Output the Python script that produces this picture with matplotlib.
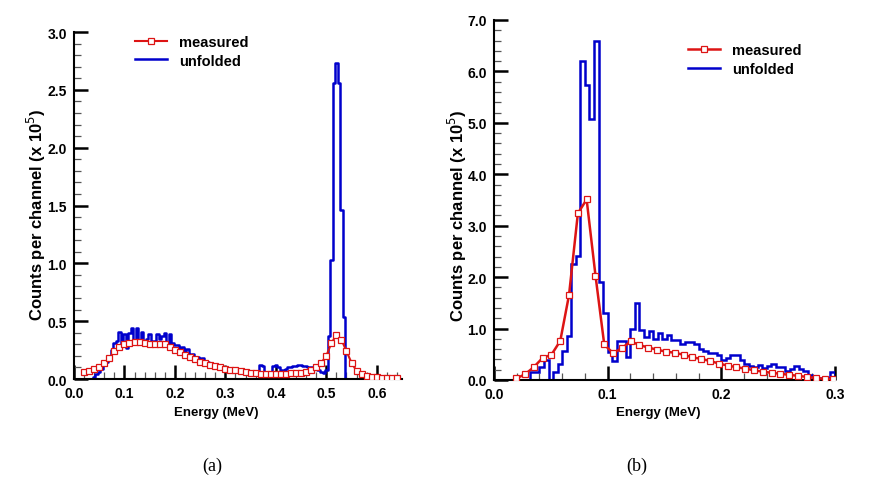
import matplotlib
matplotlib.use('Agg')
import matplotlib.pyplot as plt # plotting
import numpy as np
from matplotlib.ticker import MultipleLocator, FormatStrFormatter

plt.rcParams['font.family'] = ['Liberation Sans', 'DejaVu Sans']

# ---- panel (a) ----
# measured spectrum, one point every 0.01 MeV
e_a_meas = np.round(np.arange(0.02, 0.645, 0.01), 3)
c_a_meas = [0.058, 0.072, 0.083, 0.107, 0.136, 0.18, 0.24, 0.28, 0.30, 0.315,
            0.32, 0.32, 0.31, 0.30, 0.30, 0.305, 0.30, 0.28, 0.25, 0.23,
            0.21, 0.19, 0.17, 0.15, 0.14, 0.12, 0.11, 0.10, 0.09, 0.08,
            0.075, 0.07, 0.06, 0.055, 0.05, 0.045, 0.045, 0.045, 0.045, 0.045,
            0.045, 0.05, 0.05, 0.055, 0.06, 0.075, 0.10, 0.14, 0.20, 0.31,
            0.38, 0.34, 0.24, 0.14, 0.07, 0.04, 0.03, 0.02, 0.015, 0.012,
            0.01, 0.01, 0.01]
# unfolded spectrum, channel centres every 0.005 MeV
e_a_unf = np.round(np.arange(0.030, 0.5475, 0.005), 4)
c_a_unf = [0.00, 0.00, 0.02, 0.04, 0.06, 0.09, 0.12, 0.15, 0.20, 0.25,
           0.31, 0.33, 0.41, 0.30, 0.39, 0.27, 0.40, 0.44, 0.30, 0.44,
           0.32, 0.41, 0.33, 0.35, 0.39, 0.32, 0.33, 0.39, 0.35, 0.37,
           0.40, 0.30, 0.39, 0.31, 0.29, 0.29, 0.27, 0.28, 0.24, 0.26,
           0.21, 0.22, 0.19, 0.19, 0.17, 0.18, 0.15, 0.15, 0.13, 0.13,
           0.12, 0.12, 0.11, 0.10, 0.10, 0.09, 0.09, 0.08, 0.08, 0.075,
           0.07, 0.07, 0.065, 0.06, 0.055, 0.05, 0.04, 0.04, 0.12, 0.11,
           0.06, 0.05, 0.06, 0.11, 0.12, 0.10, 0.08, 0.08, 0.09, 0.10,
           0.10, 0.11, 0.11, 0.12, 0.12, 0.11, 0.11, 0.10, 0.10, 0.10,
           0.09, 0.08, 0.06, 0.05, 0.08, 0.37, 1.03, 2.56, 2.73, 2.56,
           1.46, 0.54, 0.00, 0.00]

# ---- panel (b) ----
e_b_meas = [0.0195, 0.0273, 0.035, 0.0428, 0.0505, 0.0583, 0.066, 0.0738, 0.0815,
            0.0893, 0.097, 0.1048, 0.1125, 0.1203, 0.128, 0.1358, 0.1435, 0.1513,
            0.159, 0.1668, 0.1745, 0.1823, 0.19, 0.1978, 0.2055, 0.2133, 0.221,
            0.2288, 0.2365, 0.2443, 0.252, 0.2598, 0.2675, 0.2753, 0.283, 0.2908,
            0.2985]
c_b_meas = [0.03, 0.11, 0.25, 0.43, 0.49, 0.76, 1.65, 3.24, 3.51, 2.03,
            0.69, 0.52, 0.62, 0.75, 0.68, 0.63, 0.59, 0.55, 0.53, 0.49,
            0.44, 0.41, 0.37, 0.32, 0.28, 0.25, 0.22, 0.19, 0.16, 0.14,
            0.12, 0.10, 0.08, 0.06, 0.04, 0.02, 0.01]
# unfolded: first channel 0.020-0.032, then 0.004 MeV channels up to 0.300
edges_b_unf = np.concatenate([[0.020], np.round(np.arange(0.032, 0.3005, 0.004), 4)])
c_b_unf = [0.0,
           0.15, 0.15, 0.25, 0.38, 0.0, 0.15, 0.31, 0.57, 0.86, 2.26,
           2.42, 6.2, 5.73, 5.08, 6.6, 1.91, 1.30, 0.55, 0.36, 0.76,
           0.75, 0.44, 0.99, 1.50, 0.97, 0.83, 0.96, 0.79, 0.92, 0.79,
           0.87, 0.77, 0.77, 0.70, 0.74, 0.74, 0.70, 0.60, 0.57, 0.53,
           0.53, 0.48, 0.39, 0.42, 0.48, 0.48, 0.39, 0.31, 0.27, 0.25,
           0.29, 0.23, 0.27, 0.31, 0.25, 0.25, 0.17, 0.22, 0.28, 0.22,
           0.17, 0.09, 0.06, 0.04, 0.04, 0.04, 0.15]

RED = '#dd1414'
BLUE = '#0000cc'


def style_axes(ax, xmax, ymax, ymajor, yminor):
    ax.set_xlim(0, xmax)
    ax.set_ylim(0, ymax)
    for s in ['top', 'right']:
        ax.spines[s].set_visible(False)
    for s in ['left', 'bottom']:
        ax.spines[s].set_linewidth(1.5)
    ax.xaxis.set_major_locator(MultipleLocator(0.1))
    ax.xaxis.set_minor_locator(MultipleLocator(0.02))
    ax.yaxis.set_major_locator(MultipleLocator(ymajor))
    ax.yaxis.set_minor_locator(MultipleLocator(yminor))
    ax.xaxis.set_major_formatter(FormatStrFormatter('%.1f'))
    ax.yaxis.set_major_formatter(FormatStrFormatter('%.1f'))
    ax.tick_params(which='major', direction='in', length=10, width=1.8,
                   labelsize=10, pad=5)
    ax.tick_params(which='minor', direction='in', length=5, width=0.9,
                   color='#555555')
    for lab in ax.get_xticklabels() + ax.get_yticklabels():
        lab.set_fontweight('bold')


fig = plt.figure(figsize=(8.88, 4.89), dpi=100)
ax_a = fig.add_axes([0.0833, 0.2229, 0.3694, 0.7096])
ax_b = fig.add_axes([0.5563, 0.2209, 0.3840, 0.7362])

# panel (a)
ax_a.plot(e_a_unf, c_a_unf, drawstyle='steps-mid', color=BLUE, lw=1.8,
          label='unfolded', zorder=2)
ax_a.plot(e_a_meas, c_a_meas, color=RED, lw=1.5, marker='s', ms=3.8,
          mfc='white', mec=RED, mew=0.9, label='measured', zorder=3)
style_axes(ax_a, 0.65, 3.0, 0.5, 0.1)

# panel (b)
ax_b.stairs(c_b_unf, edges_b_unf, color=BLUE, lw=1.8, label='unfolded',
            zorder=2)
ax_b.plot(e_b_meas, c_b_meas, color=RED, lw=1.8, marker='s', ms=3.8,
          mfc='white', mec=RED, mew=0.9, label='measured', zorder=3)
style_axes(ax_b, 0.3, 7.0, 1.0, 0.2)

for ax, lx, ly, xx, xy, leg_xy in [(ax_a, -0.08, 0.475, 0.433, -0.078, (0.186, 0.991)),
                                    (ax_b, -0.072, 0.46, 0.481, -0.072, (0.569, 0.935))]:
    ax.set_ylabel('Counts per channel (x 10$^5$)', fontsize=12, fontweight='bold')
    ax.set_xlabel('Energy (MeV)', fontsize=9.5, fontweight='bold')
    ax.yaxis.set_label_coords(lx, ly)
    ax.xaxis.set_label_coords(xx, xy)
    h, l = ax.get_legend_handles_labels()
    ax.legend(h[::-1], l[::-1], loc='upper left', bbox_to_anchor=leg_xy,
              frameon=False, borderpad=0, borderaxespad=0, handlelength=2.2,
              handletextpad=0.8, labelspacing=0.3,
              prop={'size': 10.5, 'weight': 'bold'})

fig.text(212 / 888, 1 - 466 / 489, '(a)', ha='center', va='center',
         fontsize=13, family='Liberation Serif')
fig.text(637 / 888, 1 - 466 / 489, '(b)', ha='center', va='center',
         fontsize=13, family='Liberation Serif')

fig.savefig('out.png', dpi=100)
